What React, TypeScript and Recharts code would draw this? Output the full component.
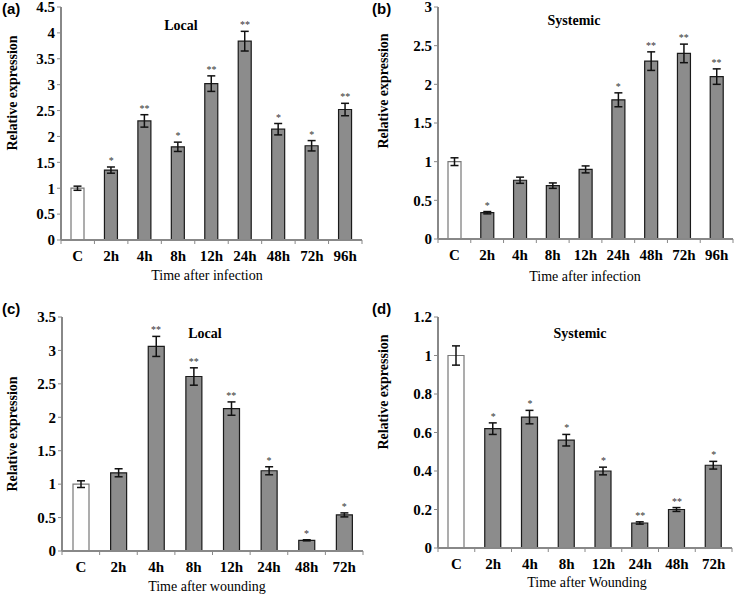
import { ComposedChart, Bar, Cell, ErrorBar, Scatter, XAxis, YAxis } from 'recharts'

const SERIF = '"Liberation Serif", "Times New Roman", serif'
const SANS = '"Liberation Sans", Arial, sans-serif'

// (a) local, after infection
const timesA = ['C', '2h', '4h', '8h', '12h', '24h', '48h', '72h', '96h']
const valuesA = [1.0, 1.35, 2.3, 1.8, 3.02, 3.84, 2.14, 1.82, 2.52]
const errorsA = [0.04, 0.06, 0.12, 0.09, 0.15, 0.19, 0.11, 0.1, 0.12]
const sigA = ['', '*', '**', '*', '**', '**', '*', '*', '**']
const ticksA = [0, 0.5, 1, 1.5, 2, 2.5, 3, 3.5, 4, 4.5]

// (b) systemic, after infection
const timesB = ['C', '2h', '4h', '8h', '12h', '24h', '48h', '72h', '96h']
const valuesB = [1.0, 0.34, 0.76, 0.69, 0.9, 1.8, 2.3, 2.4, 2.1]
const errorsB = [0.05, 0.015, 0.04, 0.035, 0.045, 0.09, 0.12, 0.12, 0.1]
const sigB = ['', '*', '', '', '', '*', '**', '**', '**']
const ticksB = [0, 0.5, 1, 1.5, 2, 2.5, 3]

// (c) local, after wounding
const timesC = ['C', '2h', '4h', '8h', '12h', '24h', '48h', '72h']
const valuesC = [1.0, 1.17, 3.06, 2.61, 2.13, 1.2, 0.16, 0.54]
const errorsC = [0.05, 0.06, 0.15, 0.13, 0.1, 0.06, 0.008, 0.03]
const sigC = ['', '', '**', '**', '**', '*', '*', '*']
const ticksC = [0, 0.5, 1, 1.5, 2, 2.5, 3, 3.5]

// (d) systemic, after wounding
const timesD = ['C', '2h', '4h', '8h', '12h', '24h', '48h', '72h']
const valuesD = [1.0, 0.62, 0.68, 0.56, 0.4, 0.13, 0.2, 0.43]
const errorsD = [0.05, 0.03, 0.035, 0.03, 0.02, 0.006, 0.01, 0.02]
const sigD = ['', '*', '*', '*', '*', '**', '**', '*']
const ticksD = [0, 0.2, 0.4, 0.6, 0.8, 1, 1.2]

interface PanelProps {
  letter: string
  title: string
  xTitle: string
  times: string[]
  values: number[]
  errors: number[]
  sig: string[]
  yTicks: number[]
  left: number
  top: number
  width: number
  height: number
  marginTop: number
  marginRight: number
  yAxisWidth: number
  xAxisHeight: number
  barSize: number
  titlePos: [number, number]
  yLabelPos: [number, number]
  xTitlePos: [number, number]
}

function Panel(p: PanelProps) {
  const data = p.times.map((t, i) => ({
    name: t,
    value: p.values[i],
    err: p.errors[i],
    top: p.values[i] + p.errors[i],
    sig: p.sig[i],
  }))
  const yMax = p.yTicks[p.yTicks.length - 1]
  const plotW = p.width - p.yAxisWidth - p.marginRight
  const half = plotW / p.times.length / 2

  const renderTick = (props: any) => {
    const { x, y, payload, index } = props
    const off = payload?.offset || half
    const last = index === p.times.length - 1
    return (
      <g>
        <line x1={x - off} y1={y} x2={x - off} y2={y + 4} stroke="#888" strokeWidth={1} />
        {last && <line x1={x + off} y1={y} x2={x + off} y2={y + 4} stroke="#888" strokeWidth={1} />}
        <text x={x} y={y + 21} textAnchor="middle" fontFamily={SERIF} fontWeight="bold" fontSize={15} fill="#000">
          {payload.value}
        </text>
      </g>
    )
  }

  const renderStar = (props: any) => {
    const { cx, cy, payload } = props
    if (!payload?.sig) return <g />
    return (
      <text x={cx} y={cy - 3} textAnchor="middle" fontFamily={SERIF} fontSize={10} fill="#333">
        {payload.sig}
      </text>
    )
  }

  return (
    <div style={{ position: 'absolute', left: p.left, top: p.top, width: p.width, height: p.height }}>
      <ComposedChart
        width={p.width}
        height={p.height}
        data={data}
        margin={{ top: p.marginTop, right: p.marginRight, left: 0, bottom: 0 }}
      >
        <XAxis
          dataKey="name"
          height={p.xAxisHeight}
          axisLine={{ stroke: '#888', strokeWidth: 2 }}
          tickLine={false}
          tickSize={0}
          tickMargin={0}
          interval={0}
          tick={renderTick}
        />
        <XAxis xAxisId="top" dataKey="name" orientation="top" height={0} tick={false} tickLine={false} axisLine={{ stroke: '#000', strokeWidth: 2 }} />
        <YAxis
          type="number"
          domain={[0, yMax]}
          ticks={p.yTicks}
          interval={0}
          width={p.yAxisWidth}
          tickSize={4}
          tickMargin={2}
          axisLine={{ stroke: '#888', strokeWidth: 2 }}
          tickLine={{ stroke: '#888' }}
          tick={{ fill: '#000', fontSize: 15, fontWeight: 'bold', fontFamily: SERIF }}
        />
        <YAxis yAxisId="right" orientation="right" type="number" domain={[0, yMax]} width={0} tick={false} tickLine={false} axisLine={{ stroke: '#000', strokeWidth: 2 }} />
        <Bar dataKey="value" barSize={p.barSize} stroke="#1a1a1a" strokeWidth={1.2} isAnimationActive={false}>
          {data.map((d, i) => (
            <Cell key={d.name} fill={i === 0 ? '#ffffff' : '#8c8c8c'} stroke={i === 0 ? '#777' : '#1a1a1a'} />
          ))}
          <ErrorBar dataKey="err" width={4} stroke="#111" strokeWidth={1.5} direction="y" />
        </Bar>
        <Scatter dataKey="top" shape={renderStar} isAnimationActive={false} />
      </ComposedChart>
      <svg width={p.width} height={p.height} style={{ position: 'absolute', left: 0, top: 0, pointerEvents: 'none' }}>
        <text x={2} y={14} fontFamily={SANS} fontWeight="bold" fontSize={15} fill="#000">{p.letter}</text>
        <text x={p.titlePos[0]} y={p.titlePos[1]} textAnchor="middle" fontFamily={SERIF} fontWeight="bold" fontSize={14} fill="#000">
          {p.title}
        </text>
        <text
          x={p.yLabelPos[0]}
          y={p.yLabelPos[1]}
          textAnchor="middle"
          dominantBaseline="central"
          transform={`rotate(-90 ${p.yLabelPos[0]} ${p.yLabelPos[1]})`}
          fontFamily={SERIF}
          fontWeight="bold"
          fontSize={14}
          fill="#000"
        >
          Relative expression
        </text>
        <text x={p.xTitlePos[0]} y={p.xTitlePos[1]} textAnchor="middle" fontFamily={SERIF} fontSize={14} fill="#000">
          {p.xTitle}
        </text>
      </svg>
    </div>
  )
}

export default function App() {
  return (
    <div style={{ position: 'absolute', left: 0, top: 0, width: 738, height: 595, background: '#fff' }}>
      <Panel
        letter="(a)" title="Local" xTitle="Time after infection"
        times={timesA} values={valuesA} errors={errorsA} sig={sigA} yTicks={ticksA}
        left={0} top={0} width={370} height={290}
        marginTop={7} marginRight={8} yAxisWidth={61} xAxisHeight={50} barSize={13}
        titlePos={[181, 30]} yLabelPos={[12, 93]} xTitlePos={[207, 280]}
      />
      <Panel
        letter="(b)" title="Systemic" xTitle="Time after infection"
        times={timesB} values={valuesB} errors={errorsB} sig={sigB} yTicks={ticksB}
        left={370} top={0} width={368} height={290}
        marginTop={7} marginRight={5} yAxisWidth={68} xAxisHeight={51} barSize={13}
        titlePos={[204, 25]} yLabelPos={[13, 91]} xTitlePos={[215, 281]}
      />
      <Panel
        letter="(c)" title="Local" xTitle="Time after wounding"
        times={timesC} values={valuesC} errors={errorsC} sig={sigC} yTicks={ticksC}
        left={0} top={300} width={370} height={295}
        marginTop={17} marginRight={7} yAxisWidth={62} xAxisHeight={44} barSize={16}
        titlePos={[205, 38]} yLabelPos={[12, 134]} xTitlePos={[207, 291]}
      />
      <Panel
        letter="(d)" title="Systemic" xTitle="Time after Wounding"
        times={timesD} values={valuesD} errors={errorsD} sig={sigD} yTicks={ticksD}
        left={370} top={300} width={368} height={295}
        marginTop={17} marginRight={6} yAxisWidth={68} xAxisHeight={47} barSize={16}
        titlePos={[210, 38]} yLabelPos={[13, 92]} xTitlePos={[217, 287]}
      />
    </div>
  )
}
